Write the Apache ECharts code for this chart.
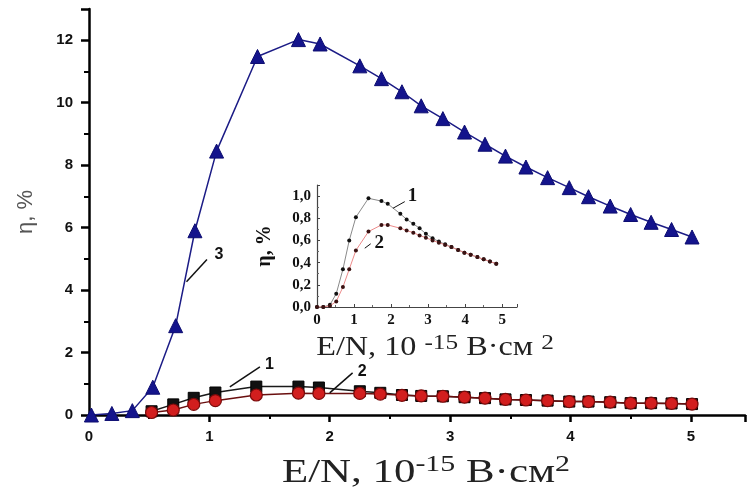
<!DOCTYPE html>
<html>
<head>
<meta charset="utf-8">
<script src="https://cdn.jsdelivr.net/npm/echarts@6/dist/echarts.min.js"></script>
<style>html,body{margin:0;padding:0;background:#fff}#c{width:748px;height:493px}</style>
</head>
<body>
<div id="c"></div>
<script>
// ---- main chart data ----
const x3 = [0.02, 0.19, 0.36, 0.53, 0.72, 0.88, 1.06, 1.40, 1.74, 1.92, 2.25, 2.43, 2.60, 2.76, 2.94, 3.12, 3.29, 3.46, 3.63, 3.81, 3.99, 4.15, 4.33, 4.50, 4.67, 4.84, 5.01];
const y3 = [0, 0.05, 0.14, 0.89, 2.86, 5.9, 8.45, 11.48, 12.02, 11.88, 11.18, 10.77, 10.35, 9.9, 9.49, 9.06, 8.67, 8.29, 7.94, 7.6, 7.28, 6.99, 6.69, 6.42, 6.17, 5.94, 5.7];
const x12 = [0.52, 0.70, 0.87, 1.05, 1.39, 1.74, 1.91, 2.25, 2.42, 2.60, 2.76, 2.94, 3.12, 3.29, 3.46, 3.63, 3.81, 3.99, 4.15, 4.33, 4.50, 4.67, 4.84, 5.01];
const y1 = [0.12, 0.34, 0.55, 0.72, 0.91, 0.91, 0.88, 0.76, 0.71, 0.64, 0.61, 0.60, 0.57, 0.54, 0.50, 0.48, 0.46, 0.43, 0.43, 0.41, 0.38, 0.38, 0.37, 0.35];
const y2 = [0.08, 0.16, 0.34, 0.46, 0.64, 0.70, 0.69, 0.69, 0.67, 0.63, 0.61, 0.60, 0.57, 0.54, 0.50, 0.48, 0.46, 0.43, 0.43, 0.41, 0.38, 0.38, 0.37, 0.35];
// ---- inset data ----
const xIn = [0, 0.17, 0.35, 0.52, 0.70, 0.87, 1.05, 1.39, 1.74, 1.91, 2.25, 2.42, 2.60, 2.77, 2.94, 3.12, 3.29, 3.46, 3.63, 3.81, 3.98, 4.15, 4.33, 4.50, 4.67, 4.84];
const yIn1 = [0, 0, 0.02, 0.12, 0.34, 0.60, 0.81, 0.98, 0.955, 0.93, 0.84, 0.79, 0.75, 0.71, 0.66, 0.62, 0.59, 0.565, 0.54, 0.515, 0.49, 0.47, 0.45, 0.43, 0.41, 0.39];
const yIn2 = [0, 0, 0.01, 0.05, 0.18, 0.34, 0.51, 0.68, 0.74, 0.74, 0.71, 0.69, 0.67, 0.645, 0.625, 0.60, 0.58, 0.56, 0.54, 0.515, 0.49, 0.47, 0.45, 0.43, 0.41, 0.39];
// ---- tick labels / text ----
const mainYTicks = [0, 2, 4, 6, 8, 10, 12];
const mainXTicks = [0, 1, 2, 3, 4, 5];
const insetYTicks = ['0,0', '0,2', '0,4', '0,6', '0,8', '1,0'];
const insetXTicks = [0, 1, 2, 3, 4, 5];
const curveLabels = ['1', '2', '3'];

const pairs = (xs, ys) => xs.map((x, i) => [x, ys[i]]);

const chart = echarts.init(document.getElementById('c'), null, {renderer: 'canvas'});

const sans = 'Liberation Sans';
const serif = 'Liberation Serif';

const option = {
  backgroundColor: '#fff',
  animation: false,
  grid: [
    {left: 89, top: 9, right: 3, bottom: 78},
    {left: 317, top: 185, right: 231, bottom: 186}
  ],
  xAxis: [
    {
      gridIndex: 0, type: 'value', min: 0, max: 5.45, interval: 1,
      axisLine: {show: true, lineStyle: {color: '#000', width: 2.5}},
      axisTick: {show: true, length: 7, lineStyle: {color: '#000', width: 2.5}},
      minorTick: {show: true, splitNumber: 2, length: 4, lineStyle: {color: '#000', width: 2}},
      splitLine: {show: false},
      axisLabel: {
        margin: 14, color: '#111', fontFamily: sans, fontWeight: 'bold', fontSize: 15,
        formatter: v => (mainXTicks.indexOf(v) >= 0 ? String(v) : '')
      }
    },
    {
      gridIndex: 1, type: 'value', min: 0, max: 5.4, interval: 1,
      axisLine: {show: true, lineStyle: {color: '#444', width: 1.2}},
      axisTick: {show: true, inside: true, length: 3, lineStyle: {color: '#444'}},
      minorTick: {show: true, splitNumber: 2, length: 2, lineStyle: {color: '#666'}},
      splitLine: {show: false},
      axisLabel: {
        margin: 6, color: '#111', fontFamily: serif, fontWeight: 'bold', fontSize: 15,
        formatter: v => (insetXTicks.indexOf(v) >= 0 ? String(v) : '')
      }
    }
  ],
  yAxis: [
    {
      gridIndex: 0, type: 'value', min: 0, max: 13, interval: 2,
      axisLine: {show: true, lineStyle: {color: '#000', width: 2.5}},
      axisTick: {show: true, length: 8, lineStyle: {color: '#000', width: 2.5}},
      minorTick: {show: true, splitNumber: 2, length: 5, lineStyle: {color: '#000', width: 2}},
      splitLine: {show: false},
      axisLabel: {
        margin: 16, color: '#111', fontFamily: sans, fontWeight: 'bold', fontSize: 15,
        formatter: v => (mainYTicks.indexOf(v) >= 0 ? String(v) : '')
      },
      name: 'η, %', nameLocation: 'middle', nameGap: 52, nameRotate: 90,
      nameTextStyle: {fontFamily: sans, fontSize: 22, color: '#555'}
    },
    {
      gridIndex: 1, type: 'value', min: 0, max: 1.1, interval: 0.2,
      axisLine: {show: true, lineStyle: {color: '#444', width: 1.2}},
      axisTick: {show: true, inside: true, length: 3, lineStyle: {color: '#444'}},
      minorTick: {show: true, splitNumber: 2, length: 2, lineStyle: {color: '#666'}},
      splitLine: {show: false},
      axisLabel: {
        margin: 6, color: '#111', fontFamily: serif, fontWeight: 'bold', fontSize: 15,
        formatter: v => {
          const i = Math.round(v / 0.2);
          return Math.abs(v - i * 0.2) < 1e-6 && insetYTicks[i] ? insetYTicks[i] : '';
        }
      },
      name: 'η, %', nameLocation: 'middle', nameGap: 42, nameRotate: 90,
      nameTextStyle: {fontFamily: serif, fontWeight: 'bold', fontSize: 20, color: '#111'}
    }
  ],
  series: [
    {
      name: '1', type: 'line', xAxisIndex: 0, yAxisIndex: 0, data: pairs(x12, y1),
      symbol: 'rect', symbolSize: 11,
      lineStyle: {color: '#1a1a1a', width: 1.5},
      itemStyle: {color: '#111', borderColor: '#000', borderWidth: 1}, z: 3
    },
    {
      name: '2', type: 'line', xAxisIndex: 0, yAxisIndex: 0, data: pairs(x12, y2),
      symbol: 'circle', symbolSize: 12,
      lineStyle: {color: '#6a0f0f', width: 1.5},
      itemStyle: {color: '#d21e1e', borderColor: '#7a0a0a', borderWidth: 1.2}, z: 4
    },
    {
      name: '3', type: 'line', xAxisIndex: 0, yAxisIndex: 0, data: pairs(x3, y3),
      symbol: 'triangle', symbolSize: 14,
      lineStyle: {color: '#1c1c86', width: 1.5},
      itemStyle: {color: '#14148c', borderColor: '#0c0c70', borderWidth: 1}, z: 5
    },
    {
      name: 'in1', type: 'line', xAxisIndex: 1, yAxisIndex: 1, data: pairs(xIn, yIn1),
      symbol: 'circle', symbolSize: 4,
      lineStyle: {color: '#8a8a8a', width: 1},
      itemStyle: {color: '#111'}, z: 3
    },
    {
      name: 'in2', type: 'line', xAxisIndex: 1, yAxisIndex: 1, data: pairs(xIn, yIn2),
      symbol: 'circle', symbolSize: 4,
      lineStyle: {color: '#ec8a8a', width: 1},
      itemStyle: {color: '#3a1212'}, z: 4
    }
  ]
};
chart.setOption(option);

// annotation anchors in data coordinates: [grid, lineFrom, lineTo, textAt, label, font, size]
const notes = [
  [0, [0.81, 4.27], [0.98, 4.98], [1.08, 5.15], curveLabels[2], sans, 16],
  [0, [1.17, 0.90], [1.42, 1.54], [1.50, 1.62], curveLabels[0], sans, 16],
  [0, [2.00, 0.71], [2.19, 1.35], [2.27, 1.40], curveLabels[1], sans, 16],
  [1, [2.05, 0.89], [2.37, 0.95], [2.58, 1.00], curveLabels[0], serif, 19],
  [1, [1.29, 0.53], [1.45, 0.57], [1.68, 0.58], curveLabels[1], serif, 19]
];
const graphics = [];
notes.forEach(n => {
  const p1 = chart.convertToPixel({gridIndex: n[0]}, n[1]);
  const p2 = chart.convertToPixel({gridIndex: n[0]}, n[2]);
  const pt = chart.convertToPixel({gridIndex: n[0]}, n[3]);
  graphics.push({
    type: 'line', z: 10,
    shape: {x1: p1[0], y1: p1[1], x2: p2[0], y2: p2[1]},
    style: {stroke: '#111', lineWidth: n[0] === 0 ? 1.5 : 1}
  });
  graphics.push({
    type: 'text', z: 10, x: pt[0], y: pt[1],
    style: {text: n[4], fill: '#111', font: 'bold ' + n[6] + 'px "' + n[5] + '"', textAlign: 'center', textVerticalAlign: 'middle'}
  });
});

// axis titles (wide serif, as in the source figure)
const mainOrigin = chart.convertToPixel({gridIndex: 0}, [0, 0]);
const insetOrigin = chart.convertToPixel({gridIndex: 1}, [0, 0]);
graphics.push({
  type: 'text', z: 10, x: mainOrigin[0] + 337, y: mainOrigin[1] + 58, scaleX: 1.3,
  style: {
    text: '{a|E/N, 10}{s|-15}{a| В·см}{s|2}', textAlign: 'center', textVerticalAlign: 'middle',
    rich: {
      a: {fontFamily: serif, fontSize: 33, fill: '#222', lineHeight: 40},
      s: {fontFamily: serif, fontSize: 23, fill: '#222', verticalAlign: 'top', lineHeight: 40}
    }
  }
});
graphics.push({
  type: 'text', z: 10, x: insetOrigin[0] + 118, y: insetOrigin[1] + 41, scaleX: 1.15,
  style: {
    text: '{a|E/N, 10 }{s|-15}{a| В·см }{s|2}', textAlign: 'center', textVerticalAlign: 'middle',
    rich: {
      a: {fontFamily: serif, fontSize: 28, fill: '#222', lineHeight: 32},
      s: {fontFamily: serif, fontSize: 22, fill: '#222', verticalAlign: 'top', lineHeight: 32}
    }
  }
});
chart.setOption({graphic: graphics});
</script>
</body>
</html>
